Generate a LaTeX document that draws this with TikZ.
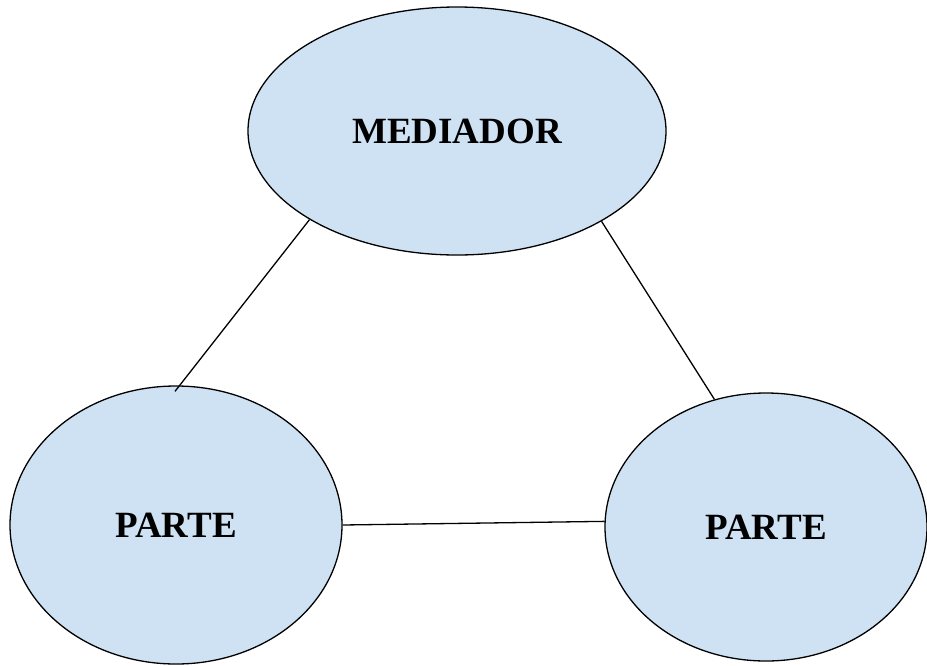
\documentclass[tikz,border=0pt]{standalone}
\usepackage{fontspec}
\setmainfont{Liberation Serif}
\usetikzlibrary{shapes.geometric}
\definecolor{bubblefill}{HTML}{CFE2F3}
\tikzset{
  bubble/.style={ellipse, draw=black, line width=1.3pt, fill=bubblefill,
    inner sep=0pt, font=\fontsize{37}{40}\selectfont\bfseries},
  link/.style={draw=black, line width=1.3pt}
}
\begin{document}
\begin{tikzpicture}[x=1pt,y=-1pt]
  \useasboundingbox (0,0) rectangle (927,665);
  \node[bubble, minimum width=418pt, minimum height=248pt] (M) at (457,131) {MEDIADOR};
  \node[bubble, minimum width=332pt, minimum height=278pt] (L) at (176,525) {PARTE};
  \node[bubble, minimum width=322pt, minimum height=268pt] (R) at (766,527) {PARTE};
  \draw[link] (M.211) -- ([shift={(-1pt,-6pt)}]L.north);
  \draw[link] (M.328) -- (R.112);
  \draw[link] (L.0) -- (R.178);
\end{tikzpicture}
\end{document}
